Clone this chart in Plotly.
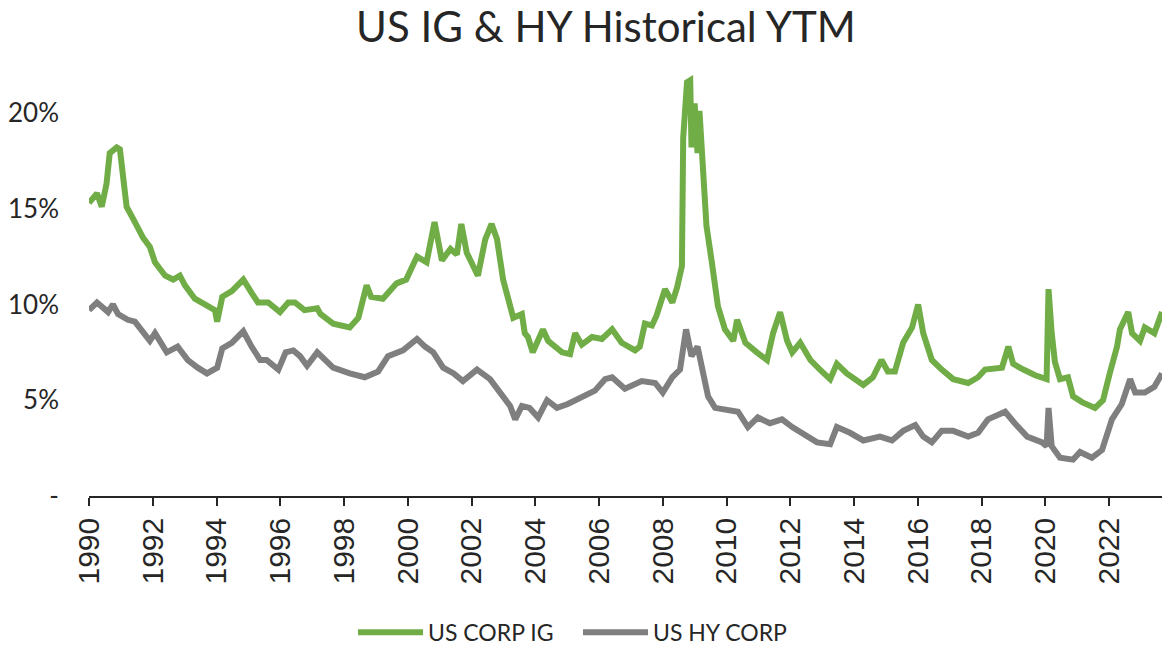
import pandas as pd
import plotly.graph_objects as go

# ---- data (decimal years, yield in %) ----
ig_years = [1990.00, 1990.12, 1990.25, 1990.40, 1990.55, 1990.65, 1990.87, 1990.97, 1991.06, 1991.18,
            1991.44, 1991.69, 1991.91, 1992.07, 1992.39, 1992.64, 1992.85, 1993.01, 1993.32, 1993.64,
            1993.95, 1994.02, 1994.18, 1994.48, 1994.84, 1995.10, 1995.30, 1995.62, 1995.99, 1996.25,
            1996.46, 1996.76, 1997.16, 1997.26, 1997.66, 1998.18, 1998.45, 1998.71, 1998.85, 1999.22,
            1999.65, 1999.95, 2000.29, 2000.59, 2000.84, 2001.07, 2001.34, 2001.54, 2001.68, 2001.85,
            2002.20, 2002.43, 2002.63, 2002.80, 2002.99, 2003.31, 2003.58, 2003.67, 2003.77, 2003.92,
            2004.24, 2004.40, 2004.84, 2005.09, 2005.25, 2005.46, 2005.78, 2006.09, 2006.41, 2006.71,
            2007.13, 2007.28, 2007.44, 2007.66, 2007.80, 2008.07, 2008.30, 2008.45, 2008.60, 2008.64,
            2008.76, 2008.86, 2008.90, 2009.00, 2009.09, 2009.15, 2009.26, 2009.37, 2009.53, 2009.73,
            2009.95, 2010.21, 2010.33, 2010.59, 2010.95, 2011.27, 2011.46, 2011.68, 2011.90, 2012.06,
            2012.31, 2012.63, 2012.93, 2013.25, 2013.46, 2013.77, 2014.29, 2014.59, 2014.86, 2015.06,
            2015.28, 2015.54, 2015.82, 2016.01, 2016.17, 2016.44, 2016.75, 2017.11, 2017.58, 2017.89,
            2018.11, 2018.64, 2018.84, 2018.99, 2019.31, 2019.68, 2020.04, 2020.10, 2020.20, 2020.30,
            2020.46, 2020.71, 2020.87, 2021.15, 2021.56, 2021.81, 2022.02, 2022.25, 2022.34, 2022.60,
            2022.72, 2022.97, 2023.12, 2023.42, 2023.66]
ig_values = [15.3, 15.6, 15.8, 15.1, 16.3, 17.9, 18.2, 18.1, 16.7, 15.1,
             14.3, 13.5, 13.0, 12.2, 11.5, 11.3, 11.5, 11.0, 10.3, 10.0,
             9.7, 9.1, 10.4, 10.7, 11.3, 10.6, 10.1, 10.1, 9.6, 10.1,
             10.1, 9.7, 9.8, 9.5, 9.0, 8.8, 9.3, 11.0, 10.4, 10.3,
             11.1, 11.3, 12.5, 12.2, 14.3, 12.3, 12.9, 12.6, 14.2, 12.7,
             11.5, 13.4, 14.2, 13.4, 11.3, 9.3, 9.5, 8.5, 8.3, 7.5,
             8.7, 8.1, 7.5, 7.4, 8.5, 7.9, 8.3, 8.2, 8.7, 8.0,
             7.6, 7.8, 9.0, 8.9, 9.4, 10.8, 10.1, 10.9, 12.0, 18.7,
             21.6, 21.7, 18.2, 20.5, 17.9, 20.1, 16.5, 14.1, 12.3, 9.9,
             8.7, 8.1, 9.2, 8.0, 7.5, 7.1, 8.5, 9.6, 8.1, 7.5,
             8.0, 7.1, 6.6, 6.1, 6.9, 6.4, 5.8, 6.2, 7.1, 6.5,
             6.5, 8.0, 8.8, 10.0, 8.5, 7.1, 6.6, 6.1, 5.9, 6.2,
             6.6, 6.7, 7.8, 6.9, 6.6, 6.3, 6.1, 10.8, 8.5, 7.0,
             6.1, 6.2, 5.2, 4.9, 4.6, 5.0, 6.4, 7.8, 8.7, 9.6,
             8.5, 8.1, 8.8, 8.5, 9.6]

hy_years = [1990.00, 1990.25, 1990.60, 1990.75, 1990.91, 1991.22, 1991.44, 1991.69, 1991.91, 1992.07,
            1992.44, 1992.78, 1993.10, 1993.41, 1993.70, 1994.02, 1994.18, 1994.48, 1994.84, 1995.10,
            1995.37, 1995.57, 1995.94, 1996.17, 1996.41, 1996.62, 1996.84, 1997.16, 1997.66, 1998.18,
            1998.65, 1999.07, 1999.38, 1999.85, 2000.29, 2000.54, 2000.80, 2001.11, 2001.44, 2001.73,
            2002.17, 2002.58, 2002.90, 2003.21, 2003.37, 2003.58, 2003.82, 2004.09, 2004.37, 2004.68,
            2005.02, 2005.46, 2005.87, 2006.19, 2006.41, 2006.81, 2007.34, 2007.76, 2008.00, 2008.30,
            2008.54, 2008.73, 2008.90, 2009.09, 2009.23, 2009.42, 2009.64, 2010.05, 2010.36, 2010.67,
            2010.98, 2011.36, 2011.74, 2012.06, 2012.41, 2012.84, 2013.25, 2013.46, 2013.87, 2014.29,
            2014.81, 2015.19, 2015.54, 2015.92, 2016.17, 2016.44, 2016.75, 2017.11, 2017.58, 2017.89,
            2018.20, 2018.74, 2019.04, 2019.43, 2019.90, 2020.04, 2020.10, 2020.20, 2020.46, 2020.87,
            2021.09, 2021.46, 2021.78, 2022.09, 2022.40, 2022.66, 2022.82, 2023.12, 2023.42, 2023.66]
hy_values = [9.7, 10.1, 9.6, 10.0, 9.5, 9.2, 9.1, 8.5, 8.1, 8.5,
             7.5, 7.8, 7.1, 6.7, 6.4, 6.7, 7.7, 8.0, 8.6, 7.8,
             7.1, 7.1, 6.6, 7.5, 7.6, 7.3, 6.8, 7.5, 6.7, 6.4,
             6.2, 6.5, 7.3, 7.6, 8.2, 7.8, 7.5, 6.7, 6.4, 6.0,
             6.6, 6.1, 5.4, 4.7, 4.0, 4.7, 4.6, 4.1, 5.0, 4.6,
             4.8, 5.2, 5.5, 6.1, 6.2, 5.6, 6.0, 5.9, 5.4, 6.2,
             6.6, 8.7, 7.3, 7.8, 6.7, 5.2, 4.6, 4.5, 4.4, 3.6,
             4.1, 3.8, 4.0, 3.6, 3.2, 2.8, 2.7, 3.6, 3.3, 2.9,
             3.1, 2.9, 3.4, 3.7, 3.1, 2.8, 3.4, 3.4, 3.1, 3.3,
             4.0, 4.4, 3.8, 3.1, 2.8, 2.6, 4.6, 2.6, 2.0, 1.9,
             2.3, 2.0, 2.4, 4.0, 4.8, 6.1, 5.4, 5.4, 5.7, 6.4]

tick_years = [1990, 1992, 1994, 1996, 1998, 2000, 2002, 2004, 2006, 2008,
              2010, 2012, 2014, 2016, 2018, 2020, 2022]
y_tick_vals = [0, 5, 10, 15, 20]
y_tick_text = ["-", "5%", "10%", "15%", "20%"]

series_names = ["US CORP IG", "US HY CORP"]
series_colors = ["#70AD47", "#7F7F7F"]


def to_dates(years):
    base = pd.Timestamp("1990-01-01")
    return [base + pd.Timedelta(days=(y - 1990) * 365.25) for y in years]


fig = go.Figure()
for yrs, vals, name, color in [(ig_years, ig_values, series_names[0], series_colors[0]),
                               (hy_years, hy_values, series_names[1], series_colors[1])]:
    fig.add_trace(go.Scatter(x=to_dates(yrs), y=vals, mode="lines", name=name,
                             line=dict(color=color, width=6)))

x_start = to_dates([ig_years[0]])[0]
x_end = to_dates([ig_years[-1]])[0]

fig.update_layout(
    width=1164, height=646,
    margin=dict(l=89, r=2, t=65, b=150, autoexpand=False),
    paper_bgcolor="white", plot_bgcolor="white",
    font=dict(family="Lato, Open Sans, sans-serif", color="#262626"),
    title=dict(text="US IG & HY Historical YTM", x=606 / 1164, xanchor="center",
               xref="container", y=1 - 27 / 646, yanchor="middle", yref="container",
               font=dict(size=42, color="#262626", family="Lato, sans-serif")),
    showlegend=True,
    legend=dict(orientation="h", x=(353 - 89) / 1073, xanchor="left", y=-0.316, yanchor="middle",
                font=dict(size=23, color="#262626"), itemwidth=65, entrywidth=145,
                traceorder="normal"),
)
fig.update_xaxes(
    type="date", range=[x_start, x_end], automargin=False,
    tickvals=to_dates(tick_years), ticktext=[str(y) for y in tick_years],
    tickangle=-90, ticks="outside", ticklen=8, tickwidth=1.5, tickcolor="#262626",
    showline=True, linecolor="#262626", linewidth=1.5, showgrid=False, zeroline=False,
    tickfont=dict(family="Liberation Sans Narrow, Arial Narrow, Liberation Sans", size=30, color="#262626"),
)
fig.update_yaxes(
    range=[0, 22.5], tickvals=y_tick_vals, ticktext=y_tick_text, automargin=False,
    showgrid=False, zeroline=False, showline=False, ticks="",
    ticklabelstandoff=29,
    tickfont=dict(size=26, color="#262626"),
)

# remove the page's default body margin so the 1164x646 figure fills the window exactly
fig.write_html("out.html", config={"displayModeBar": False},
               post_script="document.body.style.margin='0';document.body.style.overflow='hidden';")
